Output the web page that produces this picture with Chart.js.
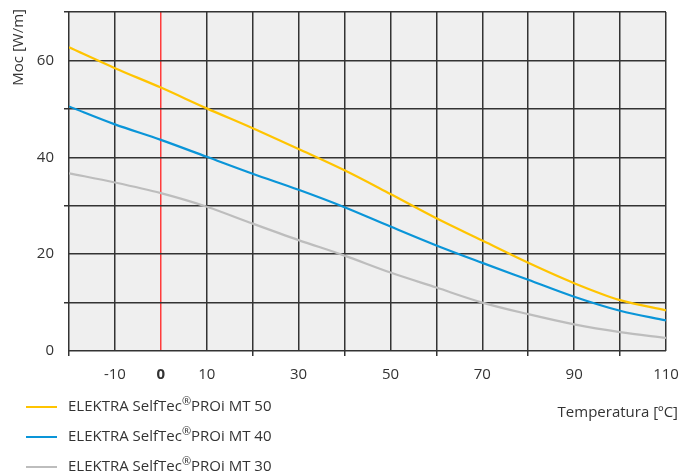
<!DOCTYPE html>
<html>
<head>
<meta charset="utf-8">
<script src="https://cdn.jsdelivr.net/npm/chart.js@4.4.1/dist/chart.umd.min.js"></script>
<style>
  html, body { margin: 0; padding: 0; background: #fff; }
  canvas { display: block; }
</style>
</head>
<body>
<canvas id="powerChart" width="680" height="476"></canvas>
<script>
// Temperature points (ºC) and power output (W/m)
const temps = [-20, -10, 0, 10, 20, 30, 40, 50, 60, 70, 80, 90, 100, 110];
const mt50 = [62.7, 58.4, 54.4, 50.1, 46.0, 41.7, 37.3, 32.4, 27.4, 22.8, 18.2, 14.0, 10.5, 8.4];
const mt40 = [50.5, 46.8, 43.6, 40.1, 36.6, 33.3, 29.7, 25.7, 21.8, 18.2, 14.7, 11.2, 8.3, 6.3];
const mt30 = [36.7, 34.8, 32.6, 29.8, 26.3, 22.9, 19.7, 16.2, 13.1, 10.0, 7.6, 5.5, 3.9, 2.7];

const seriesLabels = [
  "ELEKTRA SelfTec®PROi MT 50",
  "ELEKTRA SelfTec®PROi MT 40",
  "ELEKTRA SelfTec®PROi MT 30"
];
const xLabelTicks = [-10, 0, 10, 30, 50, 70, 90, 110];
const yLabelTicks = [0, 20, 40, 60];
const xTitle = "Temperatura [ºC]";
const yTitle = "Moc [W/m]";

const FONT = '"Open Sans", "Noto Sans", sans-serif';
const TEXT = "#333";
const GRID = "#333";

const toPoints = vals => vals.map((v, i) => ({ x: temps[i], y: v }));

// plot background + titles + legend
const decorations = {
  id: "decorations",
  beforeDraw(chart) {
    const { ctx, chartArea: a } = chart;
    ctx.save();
    ctx.fillStyle = "#efefef";
    ctx.fillRect(a.left, a.top, a.right - a.left, a.bottom - a.top);
    ctx.restore();
  },
  afterDraw(chart) {
    const ctx = chart.ctx;
    ctx.save();
    ctx.fillStyle = TEXT;
    ctx.textBaseline = "middle";

    // y title, rotated, top-aligned
    ctx.save();
    ctx.translate(19, 9);
    ctx.rotate(-Math.PI / 2);
    ctx.textAlign = "right";
    ctx.font = "15px " + FONT;
    ctx.fillText(yTitle, 0, 0);
    ctx.restore();

    // x title
    ctx.textAlign = "right";
    ctx.font = "15px " + FONT;
    ctx.fillText(xTitle, 678, 413);

    // legend
    ctx.textAlign = "left";
    chart.data.datasets.forEach((ds, i) => {
      const y = 407 + i * 30;
      ctx.strokeStyle = ds.borderColor;
      ctx.lineWidth = 2;
      ctx.beginPath();
      ctx.moveTo(26, y);
      ctx.lineTo(57, y);
      ctx.stroke();

      const parts = ds.label.split("®");
      let x = 68;
      ctx.font = "15px " + FONT;
      ctx.fillText(parts[0], x, y);
      x += ctx.measureText(parts[0]).width;
      ctx.font = "11px " + FONT;
      ctx.fillText("®", x, y - 5);
      x += ctx.measureText("®").width;
      ctx.font = "15px " + FONT;
      ctx.fillText(parts[1], x, y);
    });
    ctx.restore();
  }
};

new Chart(document.getElementById("powerChart"), {
  type: "line",
  data: {
    datasets: [
      { label: seriesLabels[0], data: toPoints(mt50), borderColor: "#ffc400" },
      { label: seriesLabels[1], data: toPoints(mt40), borderColor: "#0a95d8" },
      { label: seriesLabels[2], data: toPoints(mt30), borderColor: "#bdbdbd" }
    ]
  },
  options: {
    responsive: false,
    animation: false,
    layout: { padding: { top: 12, right: 14, left: 0, bottom: 0 } },
    elements: {
      line: { borderWidth: 2.2, cubicInterpolationMode: "monotone" },
      point: { radius: 0 }
    },
    plugins: {
      legend: { display: false },
      tooltip: { enabled: false }
    },
    scales: {
      x: {
        type: "linear",
        min: -20,
        max: 110,
        afterFit: scale => {
          scale.height = 125;
          scale.paddingLeft = 0;
          scale.paddingRight = 0;
        },
        border: { display: false },
        grid: {
          color: ctx => ctx.tick && ctx.tick.value === 0 ? "#ff3b3b" : GRID,
          lineWidth: 1.5,
          tickLength: 5,
          tickColor: ctx => xLabelTicks.includes(ctx.tick.value) ? "rgba(0,0,0,0)" : GRID
        },
        ticks: {
          stepSize: 10,
          padding: 10,
          color: TEXT,
          font: ctx => ({
            family: FONT,
            size: 15,
            weight: ctx.tick && ctx.tick.value === 0 ? "bold" : "normal"
          }),
          callback: v => xLabelTicks.includes(v) ? String(v) : ""
        }
      },
      y: {
        min: 0,
        max: 70,
        afterFit: scale => {
          scale.width = 69;
          scale.paddingTop = 0;
          scale.paddingBottom = 0;
        },
        border: { display: false },
        grid: {
          color: GRID,
          lineWidth: 1.5,
          tickLength: 5,
          tickColor: ctx => yLabelTicks.includes(ctx.tick.value) ? "rgba(0,0,0,0)" : GRID
        },
        ticks: {
          stepSize: 10,
          padding: 10,
          color: TEXT,
          font: { family: FONT, size: 15 },
          callback: v => yLabelTicks.includes(v) ? String(v) : ""
        }
      }
    }
  },
  plugins: [decorations]
});
</script>
</body>
</html>
